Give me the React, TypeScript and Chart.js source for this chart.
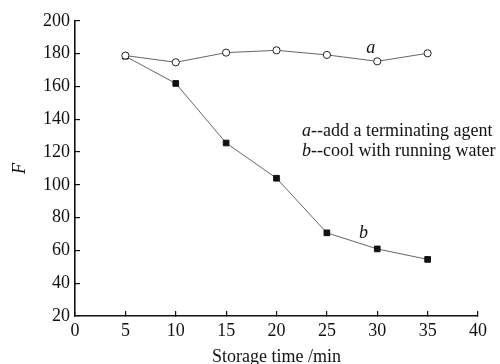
import React, { useEffect, useRef } from "react";
import { Chart, registerables } from "chart.js";

Chart.register(...registerables);

const timesA = [5, 10, 15, 20, 25, 30, 35];
const valuesA = [178.8, 174.7, 180.6, 182.0, 179.2, 175.3, 180.2];
const timesB = [5, 10, 15, 20, 25, 30, 35];
const valuesB = [178.4, 161.8, 125.5, 104.0, 70.7, 60.9, 54.5];
const xTicks = [0, 5, 10, 15, 20, 25, 30, 35, 40];
const yTicks = [20, 40, 60, 80, 100, 120, 140, 160, 180, 200];
const legendLines = [
  ["a", "--add a terminating agent"],
  ["b", "--cool with running water"],
];

const FONT = "'Liberation Serif', serif";

const textPlugin = {
  id: "texts",
  afterDraw(chart: any) {
    const ctx = chart.ctx;
    const xs = chart.scales.x;
    const ys = chart.scales.y;
    ctx.save();
    ctx.fillStyle = "#111";
    ctx.textBaseline = "alphabetic";
    ctx.textAlign = "left";
    ctx.font = `italic 18px ${FONT}`;
    ctx.fillText("a", xs.getPixelForValue(28.9), ys.getPixelForValue(180.2));
    ctx.fillText("b", xs.getPixelForValue(28.2), ys.getPixelForValue(67.5));
    const lx = 302;
    const ly = [136, 156];
    legendLines.forEach((l, i) => {
      ctx.font = `italic 18px ${FONT}`;
      ctx.fillText(l[0], lx, ly[i]);
      const w = ctx.measureText(l[0]).width;
      ctx.font = `18px ${FONT}`;
      ctx.fillText(l[1], lx + w, ly[i]);
    });
    ctx.restore();
  },
};

export default function App() {
  const ref = useRef<HTMLCanvasElement>(null);
  useEffect(() => {
    const chart = new Chart(ref.current!, {
      type: "scatter",
      data: {
        datasets: [
          {
            label: "a",
            data: timesA.map((t, i) => ({ x: t, y: valuesA[i] })),
            showLine: true,
            borderColor: "#555",
            borderWidth: 0.9,
            pointStyle: "circle",
            pointRadius: 3.6,
            pointBackgroundColor: "#fff",
            pointBorderColor: "#222",
            pointBorderWidth: 1,
          },
          {
            label: "b",
            data: timesB.map((t, i) => ({ x: t, y: valuesB[i] })),
            showLine: true,
            borderColor: "#555",
            borderWidth: 0.9,
            pointStyle: "rect",
            pointRadius: 4,
            pointBackgroundColor: "#111",
            pointBorderColor: "#111",
            pointBorderWidth: 1,
          },
        ],
      },
      options: {
        animation: false,
        responsive: false,
        layout: { padding: { left: 0, right: 22, top: 19, bottom: 0 } },
        plugins: { legend: { display: false }, tooltip: { enabled: false } },
        scales: {
          x: {
            type: "linear",
            min: 0,
            max: 40,
            afterBuildTicks: (s: any) => {
              s.ticks = xTicks.map((v) => ({ value: v }));
            },
            afterFit: (s: any) => {
              s.height = 48;
            },
            grid: {
              display: true,
              drawOnChartArea: false,
              drawTicks: true,
              tickLength: -5,
              color: "#111",
              lineWidth: 1.2,
            },
            border: { display: true, color: "#111", width: 1.6 },
            ticks: {
              color: "#111",
              font: { family: FONT, size: 18 },
              padding: 9,
              maxRotation: 0,
            },
            title: {
              display: true,
              text: "Storage time /min",
              color: "#111",
              font: { family: FONT, size: 18 },
              padding: { top: 0, bottom: -4 },
            },
          },
          y: {
            type: "linear",
            min: 20,
            max: 200,
            afterBuildTicks: (s: any) => {
              s.ticks = yTicks.map((v) => ({ value: v }));
            },
            afterFit: (s: any) => {
              s.width = 75;
            },
            grid: {
              display: true,
              drawOnChartArea: false,
              drawTicks: true,
              tickLength: -5,
              color: "#111",
              lineWidth: 1.2,
            },
            border: { display: true, color: "#111", width: 1.6 },
            ticks: {
              color: "#111",
              font: { family: FONT, size: 18 },
              padding: 10,
            },
            title: {
              display: true,
              text: "F",
              color: "#111",
              font: { family: FONT, size: 18, style: "italic" },
              padding: { top: 9, bottom: 4 },
            },
          },
        },
      },
      plugins: [textPlugin],
    } as any);
    return () => chart.destroy();
  }, []);
  return (
    <div style={{ position: "fixed", left: 0, top: 0, width: 500, height: 364, background: "#fff" }}>
      <canvas ref={ref} width={500} height={364} style={{ width: 500, height: 364 }} />
    </div>
  );
}
